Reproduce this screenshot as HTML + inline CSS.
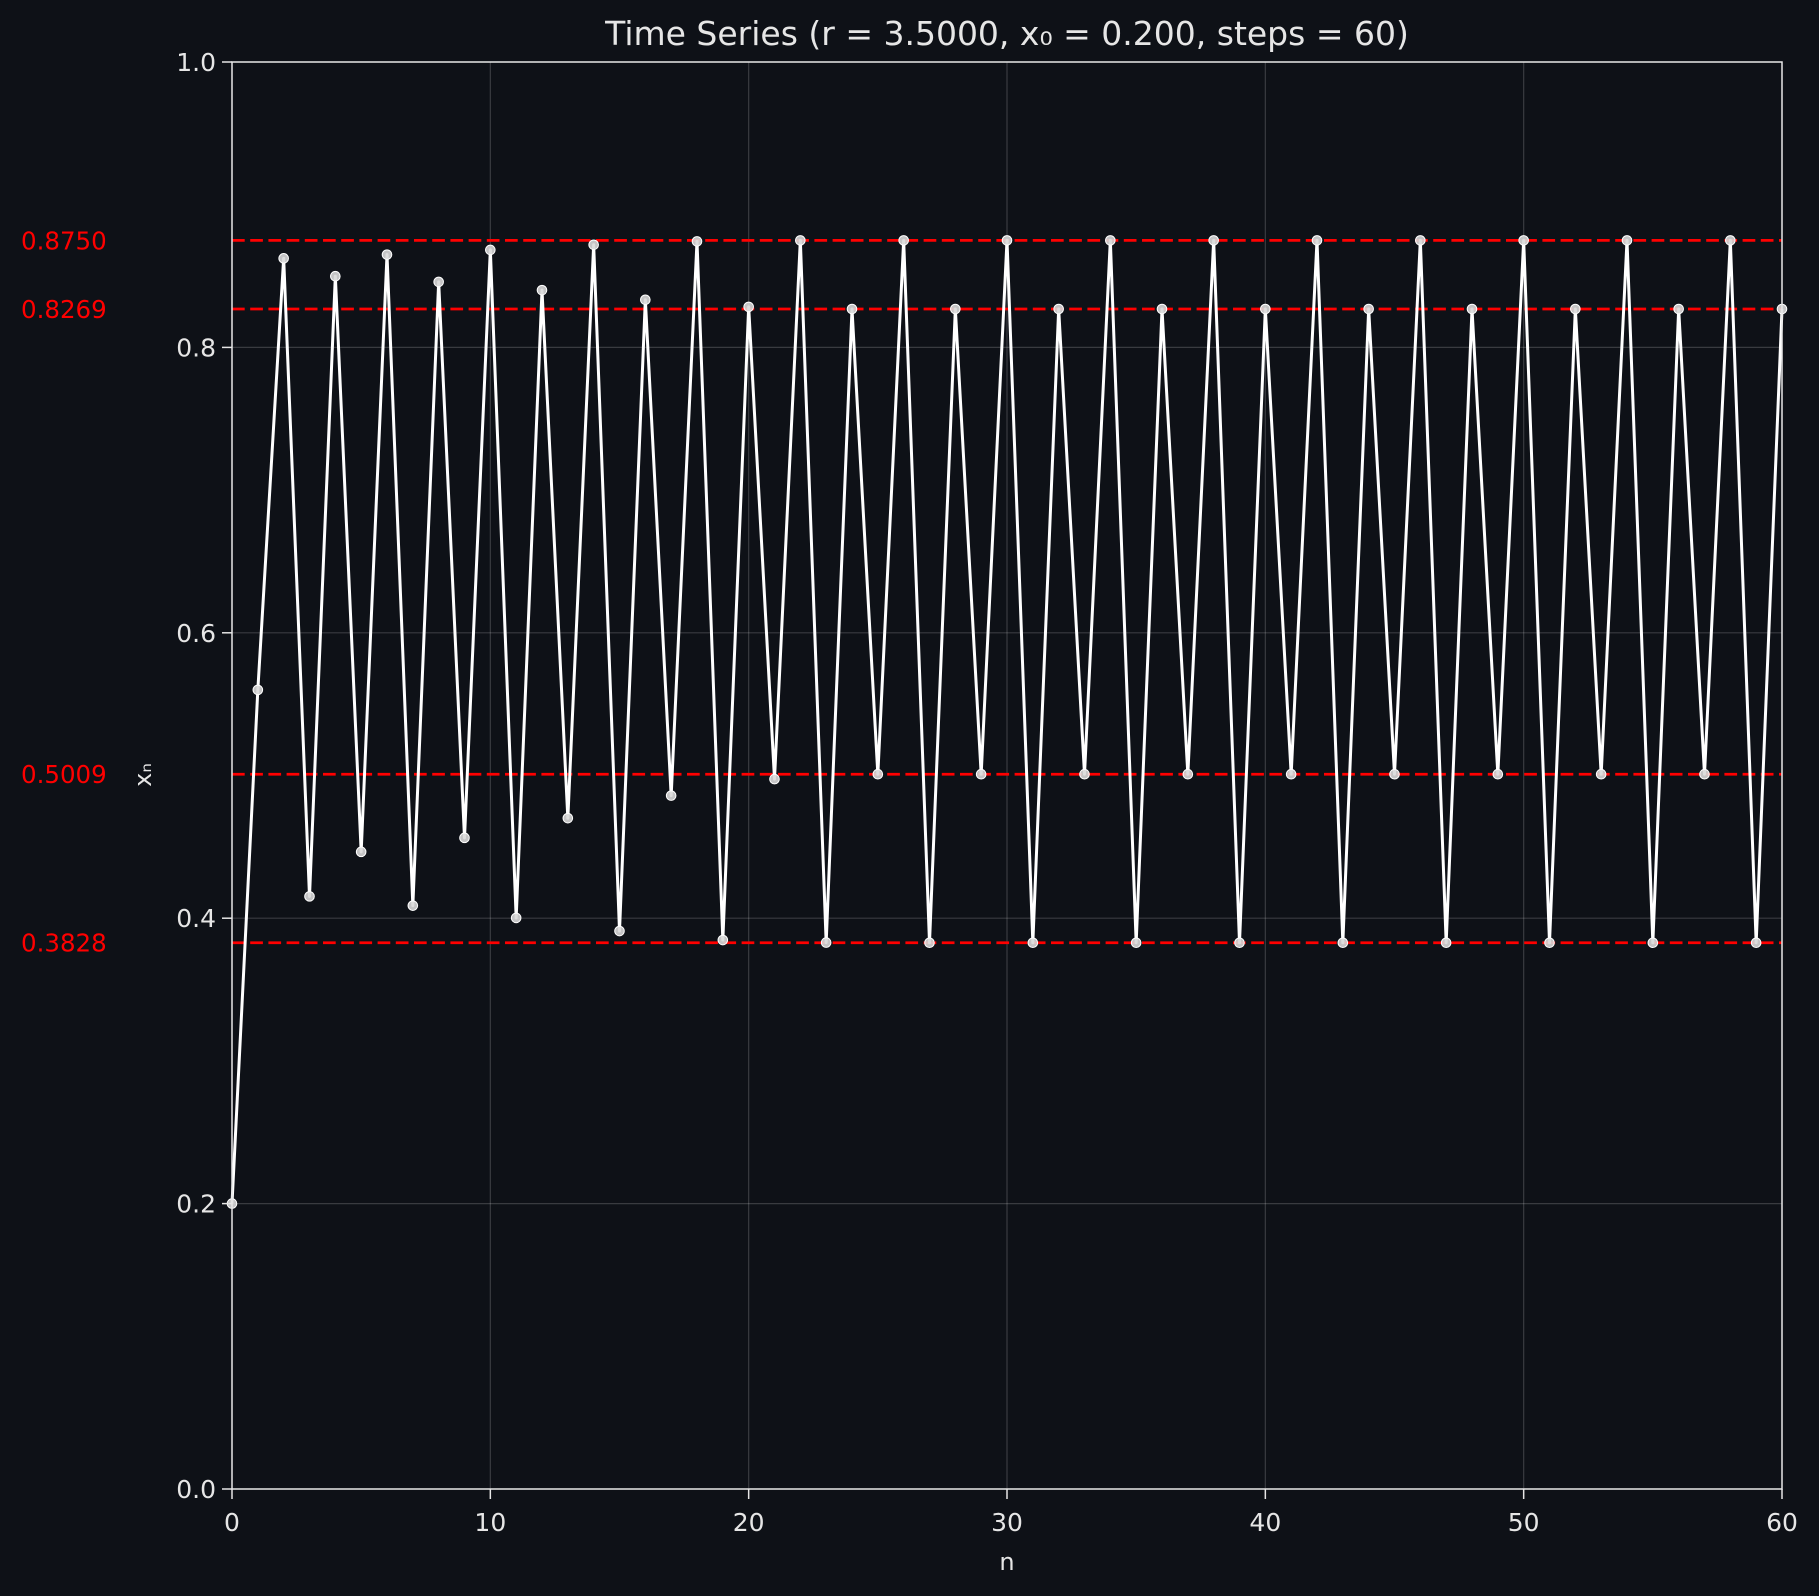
<!DOCTYPE html>
<html><head><meta charset="utf-8"><style>
html,body{margin:0;padding:0;background:#0e1117;}
svg{display:block;font-family:"DejaVu Sans","Liberation Sans",sans-serif;}
</style></head><body>
<svg id="chart" width="1819" height="1596" viewBox="0 0 1819 1596">
<rect width="1819" height="1596" fill="#0e1117"/>
<text x="1007" y="45" fill="#e6e6e6" font-size="33" text-anchor="middle">Time Series (r = 3.5000, x₀ = 0.200, steps = 60)</text>
<g id="grid"></g>
<g id="refs"></g>
<g id="series"></g>
<g id="axes"></g>
<text x="1007" y="1570" fill="#e6e6e6" font-size="24" text-anchor="middle">n</text>
<text x="0" y="0" fill="#e6e6e6" font-size="24" text-anchor="middle" transform="translate(151,775) rotate(-90)">xₙ</text>
</svg>
<script>
const values = [0.2,0.56,0.8624,0.4153,0.8499,0.4465,0.8650,0.4088,0.8459,0.4563,0.8683,0.4002,0.8401,0.4701,0.8719,0.3910,0.8334,0.4859,0.8743,0.3847,0.8284,0.4975,0.8750,0.3829,0.8269,0.5009,0.8750,0.3828,0.8269,0.5009,0.8750,0.3828,0.8269,0.5009,0.8750,0.3828,0.8269,0.5009,0.8750,0.3828,0.8269,0.5009,0.8750,0.3828,0.8269,0.5009,0.8750,0.3828,0.8269,0.5009,0.8750,0.3828,0.8269,0.5009,0.8750,0.3828,0.8269,0.5009,0.8750,0.3828,0.8269];
const refLevels = [0.8750,0.8269,0.5009,0.3828];
const refLabels = ["0.8750","0.8269","0.5009","0.3828"];
const xTicks = [0,10,20,30,40,50,60];
const yTicks = [0.0,0.2,0.4,0.6,0.8,1.0];
const yTickLabels = ["0.0","0.2","0.4","0.6","0.8","1.0"];

const L=232,R=1782,T=62,B=1489;
const xs=v=>L+(v-0)/(60-0)*(R-L);
const ys=v=>B-(v-0)/(1-0)*(B-T);
const NS="http://www.w3.org/2000/svg";
function mk(tag,attrs,parent){const e=document.createElementNS(NS,tag);for(const k in attrs)e.setAttribute(k,attrs[k]);parent.appendChild(e);return e;}
const grid=document.getElementById('grid'),refs=document.getElementById('refs'),series=document.getElementById('series'),axes=document.getElementById('axes');

xTicks.forEach(t=>{
  const g=mk('line',{x1:xs(t),x2:xs(t),y1:T,y2:B,stroke:'#ffffff','stroke-opacity':0.18,'stroke-width':1.2},grid);
  
  
  const tk=mk('line',{x1:xs(t),x2:xs(t),y1:B,y2:B+10,stroke:'#e6e6e6','stroke-width':1.5},axes);
  
  
  const tx=mk('text',{x:xs(t),y:B+42,fill:'#e6e6e6','font-size':25,'text-anchor':'middle'},axes);
  tx.textContent=String(t);
  
  
});
yTicks.forEach((t,i)=>{
  const g=mk('line',{x1:L,x2:R,y1:ys(t),y2:ys(t),stroke:'#ffffff','stroke-opacity':0.18,'stroke-width':1.2},grid);
  
  
  const tk=mk('line',{x1:L-10,x2:L,y1:ys(t),y2:ys(t),stroke:'#e6e6e6','stroke-width':1.5},axes);
  
  
  const tx=mk('text',{x:L-16,y:ys(t)+9,fill:'#e6e6e6','font-size':25,'text-anchor':'end'},axes);
  tx.textContent=yTickLabels[i];
  
  
});
refLevels.forEach((v,i)=>{
  const l=mk('line',{x1:L,x2:R,y1:ys(v),y2:ys(v),stroke:'#ff0000','stroke-width':2.8,'stroke-dasharray':'12.7,5.5'},refs);
  
  
  const tx=mk('text',{x:21,y:ys(v)+9,fill:'#ff0000','font-size':24.5},refs);
  tx.textContent=refLabels[i];
  
  
});
const pts=values.map((v,i)=>xs(i)+','+ys(v)).join(' ');
const pl=mk('polyline',{points:pts,fill:'none',stroke:'#ffffff','stroke-width':3,'stroke-linejoin':'round'},series);


values.forEach((v,i)=>{
  const c=mk('circle',{cx:xs(i),cy:ys(v),r:4.8,fill:'#d9d9d9','fill-opacity':0.9,stroke:'#ffffff','stroke-width':1},series);
  
  
});
const fr=mk('rect',{x:L,y:T,width:R-L,height:B-T,fill:'none',stroke:'#e6e6e6','stroke-width':1.5},axes);


</script>
</body></html>
